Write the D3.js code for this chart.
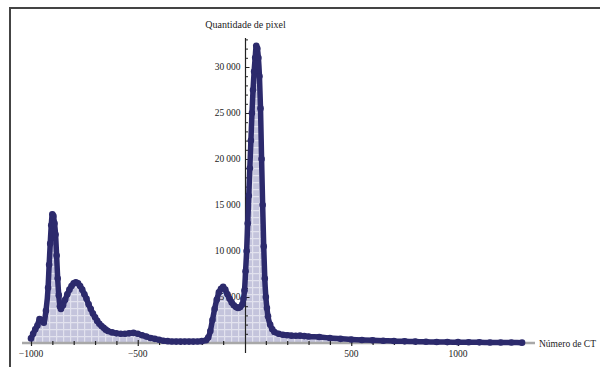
<!DOCTYPE html>
<html>
<head>
<meta charset="utf-8">
<script src="https://cdn.jsdelivr.net/npm/d3@7"></script>
<style>
  html, body { margin: 0; padding: 0; background: #fff; }
  svg { display: block; font-family: "Liberation Serif", "DejaVu Serif", serif; }
</style>
</head>
<body>
<svg id="chart" width="600" height="367"></svg>
<script>
// CT number (HU) and pixel counts
const ctNumbers = [
  -1000, -990, -980, -970, -960, -950, -940, -930, -920, -915, -910, -905, -900, -895, -890, -885, -880, -875, -870, -865,
  -860, -850, -840, -830, -820, -810, -800, -790, -780, -770, -760, -750, -740, -730, -720, -710, -700, -690, -680, -670,
  -660, -650, -640, -620, -600, -580, -560, -540, -520, -500, -480, -460, -440, -420, -400, -380, -360, -340, -320, -300,
  -280, -260, -240, -220, -200, -180, -170, -160, -150, -140, -130, -120, -110, -100, -90, -80, -70, -60, -50, -40,
  -30, -20, -10, -5, 0, 5, 10, 15, 20, 25, 30, 35, 40, 45, 50, 55, 60, 65, 70, 75,
  80, 85, 90, 95, 100, 105, 110, 120, 130, 140, 160, 180, 200, 220, 240, 260, 280, 300, 350, 400,
  450, 500, 550, 600, 650, 700, 750, 800, 850, 900, 950, 1000, 1050, 1100, 1150, 1200, 1250, 1300
];
const pixelCounts = [
  500, 1000, 1500, 1900, 2600, 2500, 2200, 3500, 6000, 8500, 10800, 12800, 14000, 13800, 13000, 11800, 9500, 7000, 5200, 4000,
  3700, 4100, 4700, 5300, 5800, 6200, 6500, 6600, 6500, 6200, 5800, 5300, 4800, 4200, 3700, 3200, 2800, 2400, 2100, 1850,
  1650, 1450, 1300, 1150, 1050, 1000, 1000, 1050, 1100, 1000, 850, 700, 550, 450, 350, 250, 200, 170, 150, 150,
  150, 150, 150, 160, 200, 300, 600, 1300, 2500, 3700, 4700, 5500, 5900, 6100, 5800, 5300, 4800, 4400, 4100, 3900,
  3800, 3900, 4200, 4800, 5700, 7800, 10000, 13000, 16000, 19000, 22000, 25000, 27500, 29500, 31000, 32300, 32000, 31000, 29000, 25500,
  20000, 15000, 10500, 7000, 5000, 3800, 2900, 2000, 1500, 1200, 1000, 900, 850, 800, 780, 800, 750, 700, 650, 550,
  450, 380, 330, 290, 250, 210, 180, 150, 130, 110, 100, 90, 80, 70, 60, 55, 50, 40
];
const xTickValues = [-1000, -500, 500, 1000];
const yTickValues = [5000, 10000, 15000, 20000, 25000, 30000];
const xLabel = "Número de CT";
const yLabel = "Quantidade de pixel";

const data = ctNumbers.map((v, i) => ({ ct: v, n: pixelCounts[i] }));

const svg = d3.select('#chart');

// frame of the original figure
svg.append('path')
    .attr('d', 'M10,367 V8 H600')
    .attr('fill', 'none')
    .attr('stroke', '#444')
    .attr('stroke-width', 2);

const x = d3.scaleLinear().domain([-1000, 1000]).range([31, 458]);
const y = d3.scaleLinear().domain([0, 30000]).range([343, 67]);

// mesh pattern for the filled area
const defs = svg.append('defs');
const pat = defs.append('pattern')
    .attr('id', 'mesh')
    .attr('patternUnits', 'userSpaceOnUse')
    .attr('width', 7).attr('height', 7);
pat.append('rect').attr('width', 7).attr('height', 7).attr('fill', '#c4c4dc');
pat.append('path').attr('d', 'M0,0.5 H7 M0.5,0 V7')
    .attr('stroke', '#e2e2ee').attr('stroke-width', 1.4);

const area = d3.area()
    .x(d => x(d.ct))
    .y0(y(0))
    .y1(d => y(d.n))
    .curve(d3.curveMonotoneX);

svg.append('path')
    .datum(data)
    .attr('d', area)
    .attr('fill', 'url(#mesh)');

// x axis (gray bar with small ticks)
svg.append('line')
    .attr('x1', 22).attr('x2', 535)
    .attr('y1', y(0)).attr('y2', y(0))
    .attr('stroke', '#a8a8a8')
    .attr('stroke-width', 2.5);

const xAxis = d3.axisBottom(x)
    .tickValues(d3.range(-1000, 1301, 100).filter(v => v !== 0))
    .tickSize(0)
    .tickFormat('');
const gx = svg.append('g').attr('transform', `translate(0,${y(0)})`).call(xAxis);
gx.select('.domain').remove();
gx.selectAll('.tick').append('line')
    .attr('y1', d => xTickValues.includes(d) ? -3 : -2)
    .attr('y2', d => xTickValues.includes(d) ? 3 : 2)
    .attr('stroke', '#222')
    .attr('stroke-width', 1.2);

svg.append('g').selectAll('text')
    .data(xTickValues)
    .join('text')
    .attr('x', d => x(d))
    .attr('y', 357)
    .attr('text-anchor', 'middle')
    .attr('font-size', 9.5)
    .attr('fill', '#222')
    .text(d => d3.format('d')(d).replace('-', '\u2212'));

// y axis
const x0 = x(0) + 1;
const yAxis = d3.axisLeft(y)
    .tickValues(d3.range(1000, 33001, 1000))
    .tickSize(0)
    .tickFormat('');
const gy = svg.append('g').attr('transform', `translate(${x0},0)`).call(yAxis);
gy.select('.domain').remove();
gy.selectAll('.tick').append('line')
    .attr('x1', 0)
    .attr('x2', d => yTickValues.includes(d) ? 4 : 2.5)
    .attr('stroke', '#222')
    .attr('stroke-width', 1);

svg.append('line')
    .attr('x1', x0).attr('x2', x0)
    .attr('y1', 38).attr('y2', 353)
    .attr('stroke', '#222')
    .attr('stroke-width', 1.2);

svg.append('g').selectAll('text')
    .data(yTickValues)
    .join('text')
    .attr('x', x0 - 5)
    .attr('y', d => y(d) + 3)
    .attr('text-anchor', 'end')
    .attr('font-size', 9.5)
    .attr('fill', '#222')
    .text(d => d3.format(',')(d).replace(',', '\u2009'));

// line + markers
const line = d3.line()
    .x(d => x(d.ct))
    .y(d => y(d.n))
    .curve(d3.curveMonotoneX);

svg.append('path')
    .datum(data)
    .attr('d', line)
    .attr('fill', 'none')
    .attr('stroke', '#2c2a6c')
    .attr('stroke-width', 5.5)
    .attr('stroke-linejoin', 'round');

svg.append('g').selectAll('circle')
    .data(data)
    .join('circle')
    .attr('cx', d => x(d.ct))
    .attr('cy', d => y(d.n))
    .attr('r', 3.3)
    .attr('fill', '#2c2a6c');

// axis labels
svg.append('text')
    .attr('x', x0)
    .attr('y', 28)
    .attr('text-anchor', 'middle')
    .attr('font-size', 10)
    .attr('fill', '#222')
    .text(yLabel);

svg.append('text')
    .attr('x', 539)
    .attr('y', 347)
    .attr('font-size', 9.5)
    .attr('fill', '#222')
    .text(xLabel);
</script>
</body>
</html>
